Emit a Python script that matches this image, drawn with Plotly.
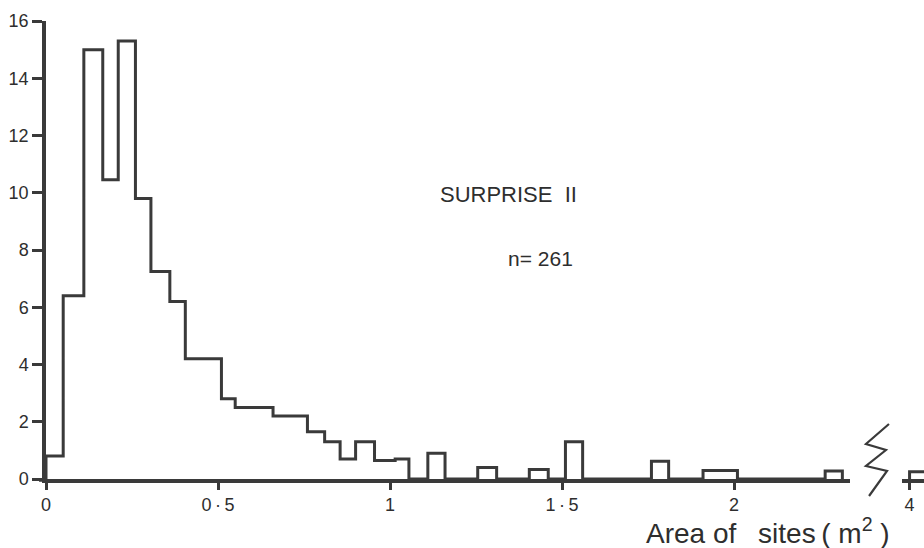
import plotly.graph_objects as go

# ---- data ----
bin_edges = [0, 0.05, 0.11, 0.165, 0.21, 0.26, 0.305, 0.36, 0.405, 0.51, 0.55, 0.66,
             0.76, 0.81, 0.855, 0.9, 0.955, 1.015, 1.055, 1.11, 1.16, 1.255, 1.31,
             1.405, 1.46, 1.51, 1.56, 1.76, 1.81, 1.91, 2.01, 2.265, 2.315]
bin_counts = [0.8, 6.4, 15.0, 10.45, 15.3, 9.8, 7.25, 6.2, 4.2,
              2.8, 2.5, 2.2, 1.65, 1.3, 0.7, 1.3, 0.65, 0.7,
              0, 0.9, 0, 0.4, 0, 0.33, 0, 1.3, 0,
              0.62, 0, 0.3, 0, 0.28]
far_edges = [4.0, 4.05]
far_counts = [0.25]

x_tickvals = [0, 0.5, 1, 1.5, 2]
x_ticktext = ["0", "0\u2009·\u20095", "1", "1\u2009·\u20095", "2"]
far_tickvals = [4]
far_ticktext = ["4"]
y_tickvals = [0, 2, 4, 6, 8, 10, 12, 14, 16]

title_text = "SURPRISE  II"
n_text = "n= 261"
axis_title = "Area of\u2002 sites\u2009( m<sup>2</sup> )"

# ---- style ----
INK = "#3a3a3a"
TXT = "#2e2e2e"
FONT = "Liberation Sans, Arial, sans-serif"
FONT_W = "Liberation Sans, Arial, sans-serif"

W, H = 924, 548
ML, MR, MT, MB = 46, 0, 21, 69
PW = W - ML - MR
PH = H - MT - MB
PX_PER_UNIT = 344.0
main_right_px = 850
far_left_px = 902


def px_to_paper(px, py):
    return (px - ML) / PW, (H - MB - py) / PH


fig = go.Figure()

step_x = [bin_edges[0]] + bin_edges
step_y = [0] + bin_counts + [0]
fig.add_trace(go.Scatter(x=step_x, y=step_y, mode="lines", line_shape="hv",
                         line=dict(color=INK, width=3), hoverinfo="skip",
                         showlegend=False, xaxis="x", yaxis="y"))

far_x = [far_edges[0]] + far_edges
far_y = [0] + far_counts + [0]
fig.add_trace(go.Scatter(x=far_x, y=far_y, mode="lines", line_shape="hv",
                         line=dict(color=INK, width=3), hoverinfo="skip",
                         showlegend=False, xaxis="x2", yaxis="y"))

main_dom_right = (main_right_px - ML) / PW
main_range_right = (main_right_px - ML) / PX_PER_UNIT
far_dom_left = (far_left_px - ML) / PW
far_span = (W - far_left_px) / PX_PER_UNIT
far_start = far_tickvals[0] - 0.022

axis_common = dict(showgrid=False, zeroline=False, showline=True, linecolor=INK,
                   linewidth=3.5, ticks="outside", tickcolor=INK, tickwidth=2.5,
                   tickfont=dict(family=FONT, size=18, color=TXT))

fig.update_layout(
    width=W, height=H,
    margin=dict(l=ML, r=MR, t=MT, b=MB, pad=0),
    paper_bgcolor="white", plot_bgcolor="white",
    showlegend=False,
    xaxis=dict(domain=[0, main_dom_right], range=[0, main_range_right],
               tickvals=x_tickvals, ticktext=x_ticktext, ticklen=7,
               anchor="y", **axis_common),
    xaxis2=dict(domain=[far_dom_left, 1], range=[far_start, far_start + far_span],
                tickvals=far_tickvals, ticktext=far_ticktext, ticklen=7,
                anchor="y", **axis_common),
    yaxis=dict(range=[0, 16], tickvals=y_tickvals, ticklen=10,
               anchor="x", **axis_common),
)

# slight overhang of the axis lines at the origin, as drawn in the original
ox0, oy0 = px_to_paper(39, 480)
ox1, oy1 = px_to_paper(46, 480)
fig.add_shape(type="line", x0=ox0, y0=oy0, x1=ox1, y1=oy1, xref="paper", yref="paper",
              line=dict(color=INK, width=3.5))

# break symbol (zigzag) between the two axis pieces
zig_px = [(889, 424), (866, 444), (886, 450), (866, 466), (887, 471), (869, 496)]
pts = [px_to_paper(px, py) for px, py in zig_px]
path = "M " + " L ".join(f"{x:.4f},{y:.4f}" for x, y in pts)
fig.add_shape(type="path", path=path, xref="paper", yref="paper",
              line=dict(color=INK, width=2.2))

# texts
tx, ty = px_to_paper(508, 194)
fig.add_annotation(text=title_text, x=tx, y=ty, xref="paper", yref="paper",
                   showarrow=False, xanchor="center", yanchor="middle",
                   font=dict(family=FONT_W, size=22, color=TXT))
nx, ny = px_to_paper(540, 258)
fig.add_annotation(text=n_text, x=nx, y=ny, xref="paper", yref="paper",
                   showarrow=False, xanchor="center", yanchor="middle",
                   font=dict(family=FONT_W, size=21, color=TXT))
ax_x, ax_y = px_to_paper(892, 531)
fig.add_annotation(text=axis_title, x=ax_x, y=ax_y, xref="paper", yref="paper",
                   showarrow=False, xanchor="right", yanchor="middle",
                   font=dict(family=FONT_W, size=28, color=TXT))

fig.write_html("out.html")
